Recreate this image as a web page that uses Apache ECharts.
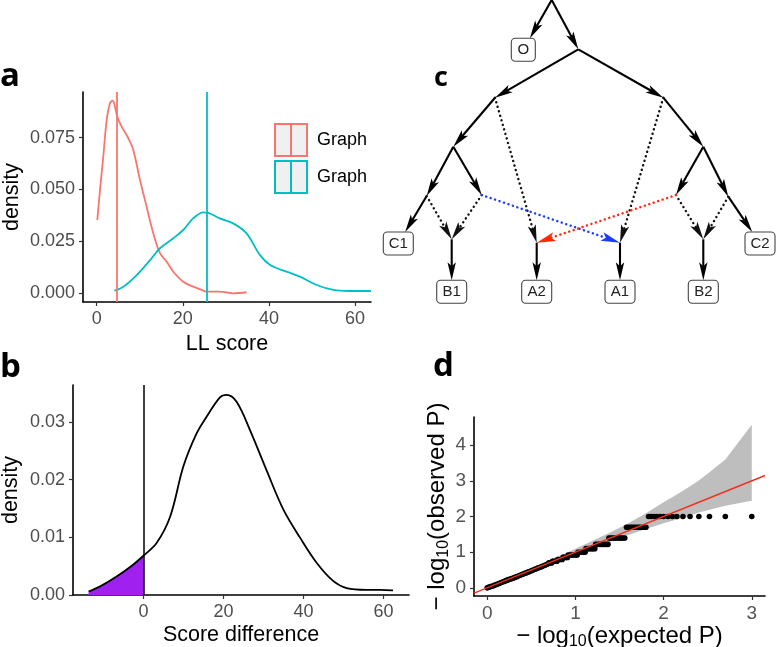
<!DOCTYPE html>
<html><head><meta charset="utf-8">
<script src="https://cdn.jsdelivr.net/npm/echarts@6/dist/echarts.min.js"></script>
<style>html,body{margin:0;padding:0;background:#fff}#c{width:776px;height:647px}</style>
</head><body><div id="c"></div>
<script>
// ---------- Panel a: LL score densities ----------
const aRedX  = [0.14,0.77,1.53,2.32,3.09,3.7,4.25,4.79,5.8,7.35,8.5,10.06,11.6,13.15,14.7,16.26,17.8,20.1,22.4,24.4,25.5,28.6,31.7,34.8];
const aRedY  = [0.0353,0.0498,0.0658,0.0835,0.0916,0.0928,0.0899,0.0851,0.0803,0.0747,0.0691,0.0546,0.0417,0.0289,0.0193,0.0152,0.0104,0.0056,0.0032,0.0016,0.0008,0.0008,0.0,0.0005];
const aCyanX = [4.1,6.2,9.3,12.4,14.7,17.8,20.1,22.4,24.8,25.9,28.6,31.7,34.8,37.9,40.3,44.1,47.2,51.1,55,58.8,63.7];
const aCyanY = [0.0013,0.0032,0.0088,0.016,0.0217,0.0265,0.0305,0.0361,0.039,0.0388,0.0361,0.0337,0.0289,0.0185,0.0136,0.0104,0.008,0.004,0.0016,0.0011,0.0011];
const aMeans = [4.65, 25.55];
const aNames = ['Graph 1','Graph 2'];
const aLegendLabels = ['Graph','Graph'];
const aXTicks = [0,20,40,60];
const aYTicks = [0,0.025,0.05,0.075];

// ---------- Panel b: score difference density ----------
const bX = [-13.7,-10.8,-6.7,-2.5,0,3.3,6.7,10,13.3,15.8,19.2,20.8,23.3,26.7,30.8,35,39.2,43.3,47.5,50.8,55.8,59.2,62.4];
const bY = [0.0006,0.0015,0.0032,0.0053,0.0068,0.009,0.0136,0.0223,0.028,0.0309,0.0343,0.0347,0.0335,0.0285,0.0216,0.0148,0.0099,0.0056,0.0024,0.0012,0.0009,0.0009,0.0008];
const bCut = 0;
const bXTicks = [0,20,40,60];
const bYTicks = [0,0.01,0.02,0.03];

// ---------- Panel c: admixture graph ----------
const nodeNames = ['R','O','N1','N2','N3','N4','N5','N6','N7','N8','N9','PB1','PA2','PA1','PB2','C1','C2','B1','A2','A1','B2'];
const nodeX = [181.7,153.3,208.3,125,293.3,83.3,333.3,56.7,111.7,306,358.3,81.7,166.7,250,333.3,28.3,390,81.7,166.7,250,333.3];
const nodeY = [0,49.7,49.3,97.7,97.7,146.7,146.7,196,195,195,196.7,239.3,242.7,242.7,239.3,243.5,243.5,291.7,291.7,291.7,291.7];
const boxLabels = {O:'O',C1:'C1',C2:'C2',B1:'B1',A2:'A2',A1:'A1',B2:'B2'};
const edgeFrom = ['R','R','N1','N1','N2','N3','N4','N4','N5','N5','N6','N9','N6','N7','N8','N9','N2','N3','N7','N8','PB1','PA2','PA1','PB2'];
const edgeTo   = ['O','N1','N2','N3','N4','N5','N6','N7','N8','N9','C1','C2','PB1','PB1','PB2','PB2','PA2','PA1','PA1','PA2','B1','A2','A1','B2'];
const edgeKind = [0,0,0,0,0,0,0,0,0,0,0,0,1,1,1,1,1,1,2,3,0,0,0,0]; // 0 solid, 1 dotted, 2 blue dotted, 3 red dotted

// ---------- Panel d: QQ plot ----------
const qqX = [3.00,2.70,2.52,2.40,2.30,2.22,2.15,2.10,2.05,2.00,1.96,1.92,1.89,1.86,1.83,
  1.80,1.77,1.74,1.72,1.70,1.68,1.66,1.64,1.62,1.60,1.58,
  1.56,1.54,1.52,1.50,1.48,1.46,1.44,1.42,1.40,1.38,
  1.37,1.35,1.33,1.31,1.29,1.27,1.25,1.23,
  1.22,1.20,1.18,1.16,1.14,1.12,
  1.11,1.09,1.07,1.05,1.03,
  1.02,1.00,0.98,0.96,0.94,0.92,
  0.91,0.89,0.87,0.86,
  0.85,0.83,0.81,0.80,
  0.79,0.77,0.75,0.74,
  0.73,0.71,0.70,
  0.68,0.66,0.64,0.62,0.60,0.58,0.56,0.54,0.52,0.50,0.48,0.46,0.44,0.42,0.40,0.38,0.36,0.34,0.32,0.30,0.28,0.26,0.24,0.22,0.20,0.18,0.16,0.14,0.12,0.10,0.08,0.06,0.04,0.02,0.00];
const qqY = [2,2,2,2,2,2,2,2,2,2,2,2,2,2,2,
  1.70,1.70,1.70,1.70,1.70,1.70,1.70,1.70,1.70,1.70,1.70,
  1.40,1.40,1.40,1.40,1.40,1.40,1.40,1.40,1.40,1.40,
  1.22,1.22,1.22,1.22,1.22,1.22,1.22,1.22,
  1.10,1.10,1.10,1.10,1.10,1.10,
  1.00,1.00,1.00,1.00,1.00,
  0.92,0.92,0.92,0.92,0.92,0.92,
  0.854,0.854,0.854,0.854,
  0.796,0.796,0.796,0.796,
  0.745,0.745,0.745,0.745,
  0.70,0.70,0.70,
  0.66,0.64,0.62,0.60,0.58,0.56,0.54,0.52,0.50,0.48,0.46,0.44,0.42,0.40,0.38,0.36,0.34,0.32,0.30,0.28,0.26,0.25,0.23,0.21,0.19,0.17,0.15,0.13,0.11,0.09,0.07,0.05,0.04,0.02,0.00];
const ribX  = [0,0.3,0.6,0.8,1.0,1.2,1.4,1.6,1.8,2.0,2.15,2.3,2.4,2.52,2.7,3.0];
const ribLo = [0,0.27,0.555,0.74,0.93,1.11,1.29,1.48,1.65,1.81,1.92,2.03,2.11,2.19,2.30,2.44];
const ribHi = [0.01,0.33,0.66,0.88,1.10,1.33,1.56,1.81,2.09,2.40,2.62,2.85,3.01,3.24,3.60,4.57];
const refLine = [[-0.15,-0.15],[3.15,3.15]];
const dXTicks = [0,1,2,3];
const dYTicks = [0,1,2,3,4];

// ---------- styling ----------
const FFN = 'Liberation Sans';
const FF = '"Liberation Sans", Arial, Helvetica, sans-serif';
const RED = '#F8766D', CYAN = '#00BFC4', PURPLE = '#A020F0';
const aColors = [RED, CYAN];
const BOX_H = 23;
const EDGE_COLORS = ['#000','#111','#1b3cff','#ff2a0a'];

function axisBase(gi, min, max, ticks, fmt, fs, col) {
  return {
    type:'value', gridIndex: gi, min, max,
    axisLine:{show:true, onZero:false, lineStyle:{color:'#000', width:1.6}},
    axisTick:{show:true, length:4, customValues: ticks, lineStyle:{color:'#333', width:1.2}},
    axisLabel:{show:true, customValues: ticks, formatter: fmt, fontSize: fs, color: col, fontFamily: FF, margin: 8},
    splitLine:{show:false}
  };
}
function pairs(xs, ys){ return xs.map((x,i)=>[x, ys[i]]); }

const idx = n => nodeNames.indexOf(n);
const edgeData = edgeFrom.map((f,i)=>{
  const a = idx(f), b = idx(edgeTo[i]);
  return [nodeX[a], nodeY[a], nodeX[b], nodeY[b], edgeKind[i], boxLabels[edgeTo[i]] ? 1 : 0];
});
const boxNodes = Object.keys(boxLabels);
const boxData = boxNodes.map(n => [nodeX[idx(n)], nodeY[idx(n)]]);

function renderEdge(params, api){
  const p1 = api.coord([api.value(0), api.value(1)]);
  let p2 = api.coord([api.value(2), api.value(3)]);
  const kind = api.value(4), boxed = api.value(5);
  if (boxed) {
    const yTop = p2[1] - BOX_H/2;
    const t = (yTop - p1[1])/(p2[1]-p1[1]);
    p2 = [p1[0] + t*(p2[0]-p1[0]), yTop];
  }
  const dx = p2[0]-p1[0], dy = p2[1]-p1[1], len = Math.hypot(dx,dy);
  const ux = dx/len, uy = dy/len;
  const colored = kind >= 2;
  const L = colored ? 19 : 18, W = colored ? 4.6 : 4.2;
  const bx = p2[0]-ux*L, by = p2[1]-uy*L;
  const col = EDGE_COLORS[kind];
  const dotted = kind !== 0;
  return {type:'group', children:[
    {type:'line', shape:{x1:p1[0], y1:p1[1], x2:bx+ux*4, y2:by+uy*4},
      style:{stroke:col, lineWidth: dotted?2.4:2.1, lineDash: dotted?[0.1,4.6]:null, lineCap: dotted?'round':'butt', fill:null}},
    {type:'polygon', shape:{points:[[p2[0],p2[1]],[bx-uy*W,by+ux*W],[bx+ux*4,by+uy*4],[bx+uy*W,by-ux*W]]}, style:{fill:col, stroke:null}}
  ]};
}
function renderBox(params, api){
  const c = api.coord([api.value(0), api.value(1)]);
  const label = boxLabels[boxNodes[params.dataIndex]];
  const w = label.length > 1 ? 30 : 24;
  return {type:'group', children:[
    {type:'rect', shape:{x:c[0]-w/2, y:c[1]-BOX_H/2, width:w, height:BOX_H, r:4}, style:{fill:'#fff', stroke:'#444', lineWidth:1.1}},
    {type:'text', style:{text:label, x:c[0], y:c[1]+0.5, align:'center', verticalAlign:'middle', fontSize:15, fontFamily:FFN, fill:'#222'}}
  ]};
}
function renderRibbon(params, api){
  if (params.dataIndex !== 0) return null;
  const pts = [];
  for (let i=0;i<ribX.length;i++) pts.push(api.coord([ribX[i], ribHi[i]]));
  for (let i=ribX.length-1;i>=0;i--) pts.push(api.coord([ribX[i], ribLo[i]]));
  return {type:'polygon', shape:{points:pts}, style:{fill:'#bebebe', stroke:null}};
}

const subRich = {
  n:{fontSize:24, fontFamily:FF, color:'#000', lineHeight:28},
  s:{fontSize:16, fontFamily:FF, color:'#000', lineHeight:12, verticalAlign:'bottom'}
};

const KEY_ICON = 'path://M0,0L32,0L32,32L0,32Z M16,0L16,32';

const option = {
  animation:false,
  backgroundColor:'#fff',
  grid:[
    {left:83, top:92, width:288, height:210, outerBoundsMode:'none', containLabel:false},
    {left:73, top:385, width:336, height:210, outerBoundsMode:'none', containLabel:false},
    {left:370, top:0, width:406, height:310, outerBoundsMode:'none', containLabel:false},
    {left:474, top:417, width:291, height:179, outerBoundsMode:'none', containLabel:false}
  ],
  xAxis:[
    Object.assign(axisBase(0, -3.18, 63.72, aXTicks, v=>String(v), 18, '#4d4d4d'),
      {name:'LL score', nameLocation:'middle', nameGap:31, nameTextStyle:{fontSize:21.5, color:'#000', fontFamily:FF}}),
    Object.assign(axisBase(1, -17.6, 66.4, bXTicks, v=>String(v), 18, '#4d4d4d'),
      {name:'Score difference', nameLocation:'middle', nameGap:29, nameTextStyle:{fontSize:21.5, color:'#000', fontFamily:FF}}),
    {type:'value', gridIndex:2, min:0, max:406, show:false},
    Object.assign(axisBase(3, -0.15, 3.15, dXTicks, v=>String(v), 19, '#555'),
      {name:'{n|− log}{s|10}{n|(expected P)}', nameLocation:'middle', nameGap:24, nameTextStyle:{rich:subRich}})
  ],
  yAxis:[
    Object.assign(axisBase(0, -0.0042, 0.0970, aYTicks, v=>v.toFixed(3), 18, '#4d4d4d'),
      {name:'density', nameLocation:'middle', nameGap:60, nameRotate:90, nameTextStyle:{fontSize:21.5, color:'#000', fontFamily:FF}}),
    Object.assign(axisBase(1, 0, 0.0364, bYTicks, v=>v.toFixed(2), 18, '#4d4d4d'),
      {name:'density', nameLocation:'middle', nameGap:51, nameRotate:90, nameTextStyle:{fontSize:21.5, color:'#000', fontFamily:FF}}),
    {type:'value', gridIndex:2, min:0, max:310, inverse:true, show:false},
    Object.assign(axisBase(3, -0.228, 4.79, dYTicks, v=>String(v), 19, '#555'),
      {name:'{n|− log}{s|10}{n|(observed P)}', nameLocation:'middle', nameGap:12, nameRotate:90, nameTextStyle:{rich:subRich}})
  ],
  legend:{
    orient:'vertical', left:274, top:123, padding:0, itemWidth:32, itemHeight:32, itemGap:3, selectedMode:false,
    formatter: name => aLegendLabels[aNames.indexOf(name)],
    textStyle:{fontSize:18, color:'#000', fontFamily:FF, padding:[0,0,0,5]},
    data: aNames.map((n,i)=>({name:n, icon:KEY_ICON, itemStyle:{color:'#f0f0f0', borderColor:aColors[i], borderWidth:2}}))
  },
  graphic:[
    {type:'text', x:0, y:77, style:{text:'a', font:'bold 33px "Open Sans", sans-serif', fill:'#000', verticalAlign:'middle'}},
    {type:'text', x:0, y:368, style:{text:'b', font:'bold 33px "Open Sans", sans-serif', fill:'#000', verticalAlign:'middle'}},
    {type:'text', x:434, y:78, style:{text:'c', font:'bold 27px "Open Sans", sans-serif', fill:'#000', verticalAlign:'middle'}},
    {type:'text', x:433, y:367, style:{text:'d', font:'bold 33px "Open Sans", sans-serif', fill:'#000', verticalAlign:'middle'}}
  ],
  series:[
    {name:aNames[0], type:'line', xAxisIndex:0, yAxisIndex:0, data:pairs(aRedX,aRedY), smooth:0.35, symbol:'none',
      lineStyle:{color:RED, width:1.8}, itemStyle:{color:RED},
      markLine:{silent:true, symbol:'none', label:{show:false}, lineStyle:{type:'solid', color:RED, width:1.8}, data:[{xAxis:aMeans[0]}]}},
    {name:aNames[1], type:'line', xAxisIndex:0, yAxisIndex:0, data:pairs(aCyanX,aCyanY), smooth:0.35, symbol:'none',
      lineStyle:{color:CYAN, width:1.8}, itemStyle:{color:CYAN},
      markLine:{silent:true, symbol:'none', label:{show:false}, lineStyle:{type:'solid', color:CYAN, width:1.8}, data:[{xAxis:aMeans[1]}]}},
    {name:'tail', type:'line', xAxisIndex:1, yAxisIndex:1, data:pairs(bX,bY).filter(p=>p[0]<=bCut), smooth:0.35, symbol:'none',
      lineStyle:{width:0}, areaStyle:{color:PURPLE, opacity:1}, z:1},
    {name:'diff', type:'line', xAxisIndex:1, yAxisIndex:1, data:pairs(bX,bY), smooth:0.35, symbol:'none',
      lineStyle:{color:'#000', width:1.8}, z:3,
      markLine:{silent:true, symbol:'none', label:{show:false}, lineStyle:{type:'solid', color:'#000', width:1.5}, data:[{xAxis:bCut}]}},
    {name:'edges', type:'custom', xAxisIndex:2, yAxisIndex:2, data:edgeData, renderItem:renderEdge, encode:{x:[0,2], y:[1,3]}, silent:true, z:2},
    {name:'boxes', type:'custom', xAxisIndex:2, yAxisIndex:2, data:boxData, renderItem:renderBox, encode:{x:0, y:1}, silent:true, z:3},
    {name:'ribbon', type:'custom', xAxisIndex:3, yAxisIndex:3, data:ribX.map((x,i)=>[x, ribLo[i], ribHi[i]]), renderItem:renderRibbon, encode:{x:0, y:[1,2]}, silent:true, z:1},
    {name:'qq', type:'scatter', xAxisIndex:3, yAxisIndex:3, data:pairs(qqX,qqY), symbolSize:5.6, itemStyle:{color:'#000', opacity:1}, z:2},
    {name:'ref', type:'line', xAxisIndex:3, yAxisIndex:3, data:refLine, symbol:'none', lineStyle:{color:'#f2301b', width:1.4}, z:3}
  ]
};
const chart = echarts.init(document.getElementById('c'), null, {renderer:'canvas'});
chart.setOption(option);
</script>
</body></html>
